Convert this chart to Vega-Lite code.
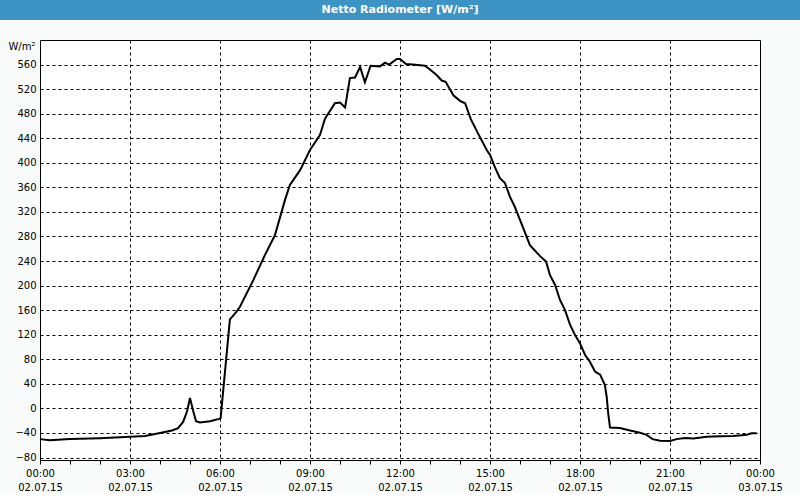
{
  "$schema": "https://vega.github.io/schema/vega-lite/v6.json",
  "padding": 0,
  "background": "#f9fbfb",
  "bounds": "flush",
  "spacing": 20,
  "config": {"view": {"stroke": null}, "font": "DejaVu Sans"},
  "vconcat": [
    {
      "width": 800,
      "height": 20,
      "view": {"fill": "#3d93c4", "stroke": null},
      "data": {"values": [{"t": "Netto Radiometer [W/m²]"}]},
      "mark": {"type": "text", "color": "white", "fontWeight": "bold", "fontSize": 11, "font": "DejaVu Sans"},
      "encoding": {"text": {"field": "t"}}
    },
    {
      "spacing": 0,
      "bounds": "flush",
      "hconcat": [
        {
          "width": 40,
          "height": 420,
          "view": {"stroke": null},
          "data": {"values": [{}]},
          "mark": {"type": "text"},
          "encoding": {"text": {"value": ""}}
        },
        {
          "width": 720,
          "height": 420,
          "view": {"stroke": "black", "strokeWidth": 1, "fill": "white"},
          "data": {"values": [
            {"hour": 0, "wm2": -50}, {"hour": 0.33, "wm2": -52}, {"hour": 1.0, "wm2": -50}, {"hour": 2.0, "wm2": -48.5},
            {"hour": 3.0, "wm2": -46}, {"hour": 3.5, "wm2": -45}, {"hour": 4.0, "wm2": -40}, {"hour": 4.4, "wm2": -36},
            {"hour": 4.6, "wm2": -32}, {"hour": 4.77, "wm2": -22}, {"hour": 4.9, "wm2": -5}, {"hour": 5.0, "wm2": 17},
            {"hour": 5.1, "wm2": -3}, {"hour": 5.2, "wm2": -21}, {"hour": 5.33, "wm2": -23}, {"hour": 5.67, "wm2": -21},
            {"hour": 5.97, "wm2": -17}, {"hour": 6.02, "wm2": -16}, {"hour": 6.33, "wm2": 145}, {"hour": 6.56, "wm2": 158},
            {"hour": 6.67, "wm2": 166}, {"hour": 7.11, "wm2": 209}, {"hour": 7.5, "wm2": 250}, {"hour": 7.83, "wm2": 282},
            {"hour": 8.17, "wm2": 340}, {"hour": 8.33, "wm2": 364}, {"hour": 8.67, "wm2": 388}, {"hour": 9.0, "wm2": 421},
            {"hour": 9.33, "wm2": 445}, {"hour": 9.5, "wm2": 472}, {"hour": 9.83, "wm2": 497}, {"hour": 10.0, "wm2": 498},
            {"hour": 10.17, "wm2": 490}, {"hour": 10.33, "wm2": 538}, {"hour": 10.5, "wm2": 539}, {"hour": 10.67, "wm2": 556},
            {"hour": 10.83, "wm2": 531}, {"hour": 11.02, "wm2": 558}, {"hour": 11.33, "wm2": 557}, {"hour": 11.5, "wm2": 563},
            {"hour": 11.64, "wm2": 560}, {"hour": 11.89, "wm2": 569}, {"hour": 12.0, "wm2": 569}, {"hour": 12.2, "wm2": 561},
            {"hour": 12.43, "wm2": 560}, {"hour": 12.83, "wm2": 558}, {"hour": 13.0, "wm2": 552}, {"hour": 13.22, "wm2": 543},
            {"hour": 13.39, "wm2": 534}, {"hour": 13.52, "wm2": 532}, {"hour": 13.78, "wm2": 510}, {"hour": 14.0, "wm2": 501},
            {"hour": 14.17, "wm2": 497}, {"hour": 14.36, "wm2": 471}, {"hour": 14.6, "wm2": 448}, {"hour": 14.9, "wm2": 420},
            {"hour": 15.0, "wm2": 413}, {"hour": 15.17, "wm2": 392}, {"hour": 15.33, "wm2": 375}, {"hour": 15.5, "wm2": 367},
            {"hour": 15.67, "wm2": 344}, {"hour": 15.83, "wm2": 328}, {"hour": 16.0, "wm2": 307}, {"hour": 16.33, "wm2": 266},
            {"hour": 16.67, "wm2": 248}, {"hour": 16.87, "wm2": 239}, {"hour": 17.0, "wm2": 217}, {"hour": 17.17, "wm2": 201},
            {"hour": 17.33, "wm2": 177}, {"hour": 17.5, "wm2": 160}, {"hour": 17.67, "wm2": 136}, {"hour": 17.83, "wm2": 120},
            {"hour": 18.0, "wm2": 106}, {"hour": 18.17, "wm2": 87}, {"hour": 18.33, "wm2": 76}, {"hour": 18.5, "wm2": 60},
            {"hour": 18.67, "wm2": 55}, {"hour": 18.83, "wm2": 38}, {"hour": 18.89, "wm2": 19}, {"hour": 18.94, "wm2": -8},
            {"hour": 19.0, "wm2": -31}, {"hour": 19.33, "wm2": -32}, {"hour": 19.67, "wm2": -36}, {"hour": 20.0, "wm2": -39.5},
            {"hour": 20.22, "wm2": -43}, {"hour": 20.42, "wm2": -50}, {"hour": 20.67, "wm2": -52.5}, {"hour": 21.0, "wm2": -53},
            {"hour": 21.22, "wm2": -50}, {"hour": 21.5, "wm2": -48}, {"hour": 21.78, "wm2": -49}, {"hour": 22.22, "wm2": -46},
            {"hour": 22.67, "wm2": -45.3}, {"hour": 23.11, "wm2": -45}, {"hour": 23.56, "wm2": -43}, {"hour": 23.72, "wm2": -40.5},
            {"hour": 23.89, "wm2": -40.5}
          ]},
          "mark": {"type": "line", "color": "black", "strokeWidth": 2},
          "encoding": {
            "x": {
              "field": "hour",
              "type": "quantitative",
              "scale": {"domain": [0, 24], "nice": false, "zero": false},
              "axis": {
                "values": [0,1,2,3,4,5,6,7,8,9,10,11,12,13,14,15,16,17,18,19,20,21,22,23,24],
                "title": null,
                "domain": false,
                "grid": true,
                "gridColor": "black",
                "gridDash": [3, 3],
                "gridOpacity": {"condition": {"test": "datum.value % 3 === 0 && datum.value > 0 && datum.value < 24", "value": 1}, "value": 0},
                "tickColor": "black",
                "tickSize": 4,
                "labelExpr": "datum.value % 3 === 0 ? [(datum.value === 24 ? '00' : (datum.value < 10 ? '0' : '') + datum.value) + ':00', datum.value === 24 ? '03.07.15' : '02.07.15'] : ''",
                "labelFontSize": 10,
                "labelColor": "black",
                "labelLineHeight": 14,
                "labelPadding": 4,
                "labelFlush": false,
                "labelOverlap": false
              }
            },
            "y": {
              "field": "wm2",
              "type": "quantitative",
              "scale": {"domain": [-84, 600], "nice": false, "zero": false},
              "axis": {
                "values": [-80,-40,0,40,80,120,160,200,240,280,320,360,400,440,480,520,560],
                "title": "W/m²",
                "titleAngle": 0,
                "titleX": -5,
                "titleY": 6,
                "titleAlign": "right",
                "titleBaseline": "middle",
                "titleFontWeight": "normal",
                "titleFontSize": 10,
                "titleColor": "black",
                "ticks": false,
                "labelPadding": 4,
                "domain": false,
                "grid": true,
                "gridColor": "black",
                "gridDash": [3, 3],
                "gridOpacity": 1,
                "labelColor": "black",
                "labelFontSize": 10
              }
            }
          }
        }
      ]
    }
  ]
}
